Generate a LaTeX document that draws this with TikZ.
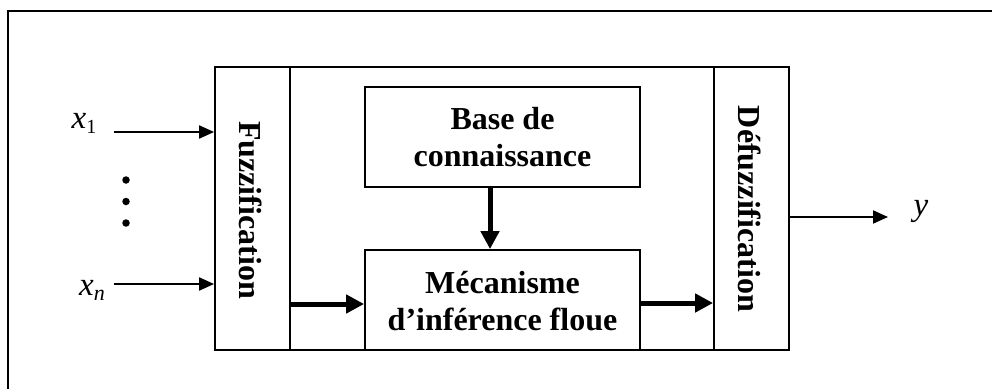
\documentclass[tikz,border=0pt]{standalone}
\usepackage{fontspec}
\setmainfont{Liberation Serif}
\usetikzlibrary{arrows.meta}
\tikzset{
  box/.style={draw, line width=1.8pt, inner sep=0pt},
  boxtext/.style={font=\bfseries\fontsize{32}{37}\selectfont, align=center, inner sep=0pt},
  lbl/.style={font=\fontsize{33}{36}\selectfont, inner sep=0pt},
  thin/.style={line width=2pt, -{Triangle[length=15pt,width=13pt]}},
  thick/.style={line width=5pt, -{Triangle[length=18pt,width=18pt]}},
  dot/.style={circle, fill, inner sep=0pt, minimum size=7.5pt}
}
\begin{document}
\begin{tikzpicture}[x=1pt,y=-1pt]
\useasboundingbox (0,0) rectangle (992,388);
% outer frame (right and bottom sides lie outside the picture)
\draw[line width=1.8pt] (8,400) -- (8,11) -- (1000,11);
% main box
\node[box, minimum width=574pt, minimum height=283pt] (main) at (502,208.5) {};
\node[box, minimum width=75pt, minimum height=283pt] (fuzz) at (252.5,208.5) {};
\node[box, minimum width=75pt, minimum height=283pt] (defuzz) at (751.5,208.5) {};
\node[boxtext, rotate=-90] (fuzzt) at (251,210) {Fuzzification};
\node[boxtext, rotate=-90] (defuzzt) at (750,209) {Défuzzification};
\node[box, minimum width=275pt, minimum height=100pt] (base) at (502.5,137) {};
\node[boxtext] (baset) at (502.5,137) {Base de\\connaissance};
\node[box, minimum width=275pt, minimum height=100pt] (mec) at (502.5,300) {};
\node[boxtext] (mect) at (502.5,301) {Mécanisme\\d’inférence floue};
% inputs
\coordinate (in1) at (114,132);
\coordinate (inn) at (114,284);
\node[lbl, anchor=base] (x1) at (84,128) {\textit{x}{\fontsize{20}{20}\selectfont\raisebox{-5pt}{1}}};
\node[lbl, anchor=base] (xn) at (92,295) {\textit{x{\fontsize{22}{22}\selectfont\raisebox{-5pt}{n}}}};
\draw[thin] (in1) -- (in1 -| fuzz.west);
\draw[thin] (inn) -- (inn -| fuzz.west);
\node[dot] (d1) at (126,180) {};
\node[dot] (d2) at (126,201.5) {};
\node[dot] (d3) at (126,223) {};
% internal arrows
\coordinate (f2m) at (290,304);
\draw[thick] (f2m -| fuzz.east) -- (f2m -| mec.west);
\coordinate (m2d) at (640,303);
\draw[thick] (m2d -| mec.east) -- (m2d -| defuzz.west);
\coordinate (b2m) at (490,200);
\draw[thick] (b2m |- base.south) -- (b2m |- mec.north);
% output
\coordinate (out) at (888,217);
\draw[thin] (out -| defuzz.east) -- (out);
\node[lbl, anchor=base] (y) at (921,215) {\textit{y}};
\end{tikzpicture}
\end{document}
